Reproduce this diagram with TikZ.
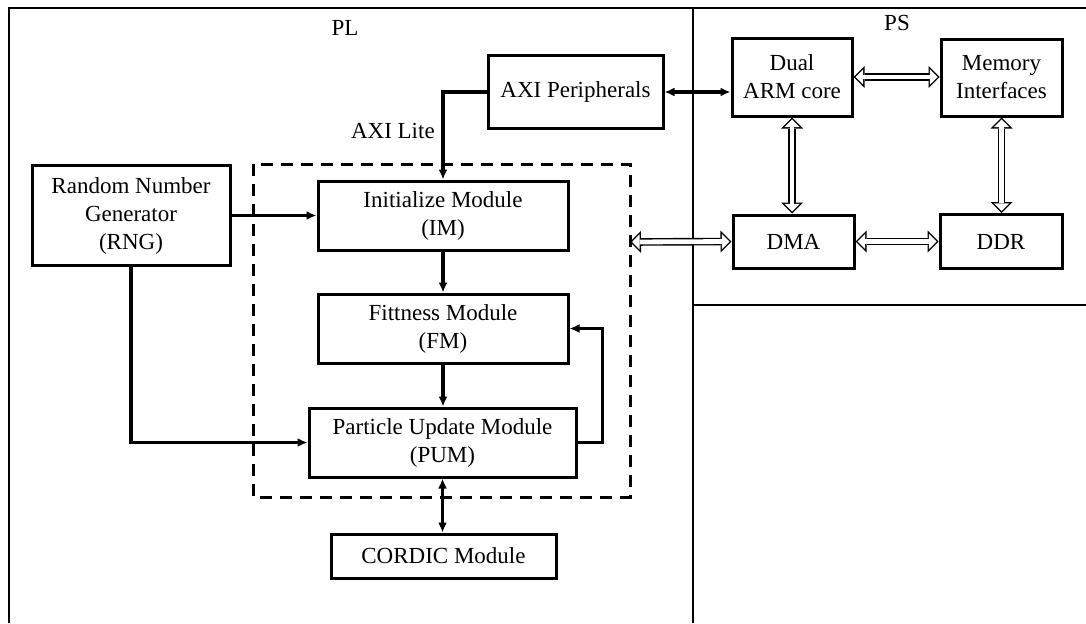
\documentclass[tikz,border=0pt]{standalone}
\usepackage{fontspec}
\setmainfont{Liberation Serif}
\usepackage{tikz}
\usetikzlibrary{positioning,arrows.meta}

\begin{document}
\begin{tikzpicture}[
  x=0.5pt, y=-0.5pt,
  font=\fontsize{11.5}{14}\selectfont,
  block/.style={draw, line width=1.5pt, align=center, inner sep=1pt},
  frame/.style={line width=0.7pt},
  arr/.style={line width=1.6pt, -{Latex[length=5pt,width=4.5pt]}},
  biarr/.style={line width=1.6pt, {Latex[length=5pt,width=4.5pt]}-{Latex[length=5pt,width=4.5pt]}},
  % hollow bus arrow: black outline pass, then white inner pass
  bus/.style={line width=3.8pt,
    arrows={Triangle[length=5.5pt,width=11pt,line width=0pt]-Triangle[length=5.5pt,width=11pt,line width=0pt]},
    postaction={draw=white, line width=2.4pt, shorten <=1pt, shorten >=1pt,
      arrows={Triangle[length=3.8pt,width=7.6pt,line width=0pt]-Triangle[length=3.8pt,width=7.6pt,line width=0pt]}}},
]
\useasboundingbox (0,0) rectangle (1086,623);

% PL / PS partition
\draw[frame] (9,623) -- (9,8) -- (1086,8);
\draw[frame] (693,8) -- (693,623);
\draw[frame] (693,305) -- (1086,305);
\node (pl) at (345,28) {PL};
\node (ps) at (897,23) {PS};

% PL side
\node[block, minimum width=87.5pt, minimum height=36.5pt] (axi) at (575.5,92) {AXI Peripherals};
\node[block, minimum width=99pt, minimum height=50pt] (rng) at (131,215.5)
  {Random Number\\Generator\\(RNG)};
\node[block, minimum width=125pt, minimum height=34.5pt] (im) at (443,215.5)
  {Initialize Module\\(IM)};
\node[block, minimum width=125pt, minimum height=34.5pt] (fm) at (443,328.5)
  {Fittness Module\\(FM)};
\node[block, minimum width=133.5pt, minimum height=34.5pt] (pum) at (442.5,442.5)
  {Particle Update Module\\(PUM)};
\node[block, minimum width=112.5pt, minimum height=22pt] (cordic) at (443.5,556)
  {CORDIC Module};

\draw[dashed, line width=1.5pt, dash pattern=on 6pt off 4pt]
  (253,164) rectangle (630,497);
\coordinate (plport) at (630,242);

% PS side
\node[block, minimum width=60pt, minimum height=39pt] (arm) at (792,77) {Dual\\ARM core};
\node[block, minimum width=60.5pt, minimum height=38.5pt] (mem) at (1001.5,77.5)
  {Memory\\Interfaces};
\node[block, minimum width=60.5pt, minimum height=26.5pt] (dma) at (793.5,241.5) {DMA};
\node[block, minimum width=61pt, minimum height=27pt] (ddr) at (1001,241.5) {DDR};

\draw[arr] (axi.west) -| node[left, pos=0.72] {AXI Lite} (im.north);
\draw[biarr] (axi.east) -- (axi.east -| arm.west);
\draw[arr] (rng.east) -- (im.west);
\draw[arr] (rng.south) |- (pum.west);
\draw[arr] (im.south) -- (fm.north);
\draw[arr] (fm.south) -- (fm.south |- pum.north);
\draw[arr] (pum.east) -- ++(25,0) |- (fm.east);
\draw[biarr] (pum.south) -- (pum.south |- cordic.north);

\draw[bus] (plport) -- (dma.west);
\draw[bus] (arm.east) -- (arm.east -| mem.west);
\draw[bus] (arm.south) -- (arm.south |- dma.north);
\draw[bus] (mem.south) -- (mem.south |- ddr.north);
\draw[bus] (dma.east) -- (dma.east -| ddr.west);

\end{tikzpicture}
\end{document}
